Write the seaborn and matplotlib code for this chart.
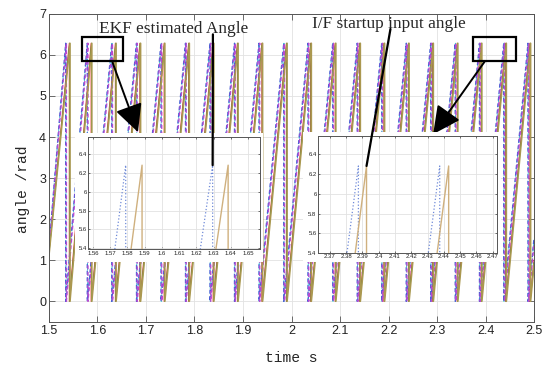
import numpy as np
import pandas as pd
import matplotlib.pyplot as plt
import seaborn as sns
from matplotlib.patches import Rectangle, ConnectionPatch

TWO_PI = 2 * np.pi
t_start, t_end = 1.5, 2.5

# wrap instants (angle falls from 2*pi back to 0)
tan_drops = [1.5435, 1.5885, 1.6385, 1.6890, 1.7390, 1.7895, 1.8400, 1.8900, 1.9405, 1.9910,
             2.0410, 2.0915, 2.1420, 2.1920, 2.2425, 2.2925, 2.3430, 2.3925, 2.4430, 2.4930]
blue_drops = [1.5345, 1.5790, 1.6295, 1.6805, 1.7310, 1.7815, 1.8320, 1.8825, 1.9330, 1.9840,
              2.0340, 2.0850, 2.1355, 2.1860, 2.2365, 2.2870, 2.3375, 2.3875, 2.4375, 2.4875]
magenta_drops = [1.5360, 1.5805, 1.6310, 1.6820, 1.7325, 1.7830, 1.8335, 1.8840, 1.9345, 1.9855,
                 2.0355, 2.0865, 2.1370, 2.1875, 2.2380, 2.2885, 2.3390, 2.3890, 2.4390, 2.4890]
cyan_drops = [1.5350, 1.5795, 1.6300, 1.6810, 1.7315, 1.7820, 1.8325, 1.8830, 1.9335, 1.9845,
              2.0345, 2.0855, 2.1360, 2.1865, 2.2370, 2.2875, 2.3380, 2.3880, 2.4380, 2.4880]
red_drops = [1.5420, 1.5870, 1.6370, 1.6875, 1.7375, 1.7880, 1.8385, 1.8885, 1.9390, 1.9895,
             2.0395, 2.0900, 2.1405, 2.1905, 2.2410, 2.2910, 2.3415, 2.3910, 2.4415, 2.4915]
green_drops = [1.5427, 1.5877, 1.6377, 1.6882, 1.7382, 1.7887, 1.8392, 1.8892, 1.9397, 1.9902,
               2.0402, 2.0907, 2.1412, 2.1912, 2.2417, 2.2917, 2.3422, 2.3917, 2.4422, 2.4922]

# angle at 1.5 s and at 2.5 s for each trace
series_names = ["cyan", "red", "green", "blue", "magenta", "tan"]
start_values = [1.30, 1.20, 1.15, 1.30, 1.25, 1.10]
end_values = [1.50, 1.00, 0.95, 1.55, 1.40, 0.90]
all_drops = [cyan_drops, red_drops, green_drops, blue_drops, magenta_drops, tan_drops]

x_ticks = [1.5, 1.6, 1.7, 1.8, 1.9, 2.0, 2.1, 2.2, 2.3, 2.4, 2.5]
x_labels = ["1.5", "1.6", "1.7", "1.8", "1.9", "2", "2.1", "2.2", "2.3", "2.4", "2.5"]
y_ticks = [0, 1, 2, 3, 4, 5, 6, 7]
ins1_xticks = [1.56, 1.57, 1.58, 1.59, 1.60, 1.61, 1.62, 1.63, 1.64, 1.65]
ins1_xlabels = ["1.56", "1.57", "1.58", "1.59", "1.6", "1.61", "1.62", "1.63", "1.64", "1.65"]
ins2_xticks = [2.37, 2.38, 2.39, 2.40, 2.41, 2.42, 2.43, 2.44, 2.45, 2.46, 2.47]
ins2_xlabels = ["2.37", "2.38", "2.39", "2.4", "2.41", "2.42", "2.43", "2.44", "2.45", "2.46", "2.47"]
ins_yticks = [5.4, 5.6, 5.8, 6.0, 6.2, 6.4]
ins_ylabels = ["5.4", "5.6", "5.8", "6", "6.2", "6.4"]

rows = []
for name, drops, v0, v1 in zip(series_names, all_drops, start_values, end_values):
    rows.append((name, t_start, v0))
    for d in drops:
        rows.append((name, d, TWO_PI))
        rows.append((name, d, 0.0))
    rows.append((name, t_end, v1))
df = pd.DataFrame(rows, columns=["series", "t", "angle"])

sns.set_theme(style="white")
plt.rcParams["font.family"] = ["Liberation Sans", "DejaVu Sans"]

colors = {"cyan": "#3cc8d2", "blue": "#4a5cd6", "magenta": "#b84ad0",
          "red": "#f03a3a", "green": "#3f9a3f", "tan": "#ab9850"}
styles = {"cyan": (1, (3, 2)), "blue": (0, (3, 2)), "magenta": (2.5, (3, 2)),
          "red": "-", "green": "-", "tan": "-"}
widths = {"cyan": 0.7, "blue": 0.95, "magenta": 0.95, "red": 0.8, "green": 0.7, "tan": 1.1}

fig = plt.figure(figsize=(5.5, 3.73), dpi=100)
ax = fig.add_axes([0.089, 0.137, 0.882, 0.826])
ax.set_zorder(0)


def style_axes(a, size, tick_len):
    a.grid(True, color="#e2e2e2", lw=0.6)
    a.set_axisbelow(True)
    for s in a.spines.values():
        s.set_color("#555555")
        s.set_linewidth(0.7)
    a.tick_params(direction="in", top=True, right=True, length=tick_len, width=0.6,
                  colors="#555555", labelcolor="#222222", labelsize=size, pad=2,
                  bottom=True, left=True)


for name in series_names:
    sub = df[df.series == name]
    sns.lineplot(data=sub, x="t", y="angle", ax=ax, sort=False, estimator=None,
                 color=colors[name], lw=widths[name], linestyle=styles[name], legend=False)

ax.set_xlim(1.5, 2.5)
ax.set_ylim(-0.5, 7.0)
ax.set_xticks(x_ticks)
ax.set_xticklabels(x_labels)
ax.set_yticks(y_ticks)
style_axes(ax, 9, 4)
ax.set_xlabel("time s", family=["Liberation Mono", "DejaVu Sans Mono"], fontsize=10.5, labelpad=10)
ax.set_ylabel("angle /rad", family=["Liberation Mono", "DejaVu Sans Mono"], fontsize=10.5)
ax.yaxis.set_label_coords(-0.040, 0.43)

# zoom boxes
for x0, x1 in [(1.568, 1.653), (2.374, 2.463)]:
    ax.add_patch(Rectangle((x0, 5.85), x1 - x0, 0.59, fill=False, ec="black", lw=1.6, zorder=5))

serif = ["Liberation Serif", "DejaVu Serif"]
ax.text(1.758, 6.63, "EKF estimated Angle", family=serif, fontsize=12.4, ha="center", va="center", zorder=6)
ax.text(2.201, 6.76, "I/F startup input angle", family=serif, fontsize=12.4, ha="center", va="center", zorder=6)

arrow = dict(arrowstyle="-|>,head_length=1.0,head_width=0.5", color="black", lw=1.4,
             mutation_scale=17, shrinkA=0, shrinkB=0)
ax.annotate("", xy=(1.6835, 4.12), xytext=(1.630, 5.85), arrowprops=arrow, zorder=6)
ax.annotate("", xy=(2.292, 4.07), xytext=(2.399, 5.85), arrowprops=arrow, zorder=6)

# white panels behind the insets (they cover the tick labels too)
for rect in [[0.136, 0.298, 0.342, 0.346], [0.551, 0.298, 0.359, 0.348]]:
    fig.add_artist(Rectangle((rect[0], rect[1]), rect[2], rect[3], transform=fig.transFigure,
                             fc="white", ec="none", zorder=0.5))

# insets
insets = [
    ([0.160, 0.332, 0.3127, 0.300], (1.5571, 1.657), (5.39, 6.58), ins1_xticks, ins1_xlabels),
    ([0.578, 0.322, 0.325, 0.314], (2.3626, 2.4725), (5.40, 6.59), ins2_xticks, ins2_xlabels),
]
ins_axes = []
for rect, xl, yl, xt, xtl in insets:
    ia = fig.add_axes(rect)
    ia.set_zorder(1)
    ia.set_facecolor("white")
    for name, col, ls, lw in [("blue", "#6f8ad8", ":", 0.9), ("tan", "#cfb07e", "-", 1.0)]:
        sub = df[df.series == name]
        sns.lineplot(data=sub, x="t", y="angle", ax=ia, sort=False, estimator=None,
                     color=col, lw=lw, linestyle=ls, legend=False)
    ia.set_xlim(*xl)
    ia.set_ylim(*yl)
    ia.set_xticks(xt)
    ia.set_xticklabels(xtl)
    ia.set_yticks(ins_yticks)
    ia.set_yticklabels(ins_ylabels)
    ia.set_xlabel("")
    ia.set_ylabel("")
    style_axes(ia, 4.3, 1.5)
    ia.tick_params(pad=1)
    ins_axes.append(ia)

# leader lines from the labels down to the traces in the insets
con1 = ConnectionPatch(xyA=(1.838, 6.50), coordsA=ax.transData,
                       xyB=(blue_drops[2], TWO_PI), coordsB=ins_axes[0].transData,
                       color="black", lw=1.6, zorder=10)
con2 = ConnectionPatch(xyA=(2.204, 6.63), coordsA=ax.transData,
                       xyB=(tan_drops[17], TWO_PI), coordsB=ins_axes[1].transData,
                       color="black", lw=1.6, zorder=10)
fig.add_artist(con1)
fig.add_artist(con2)

fig.savefig("out.png", dpi=100)
